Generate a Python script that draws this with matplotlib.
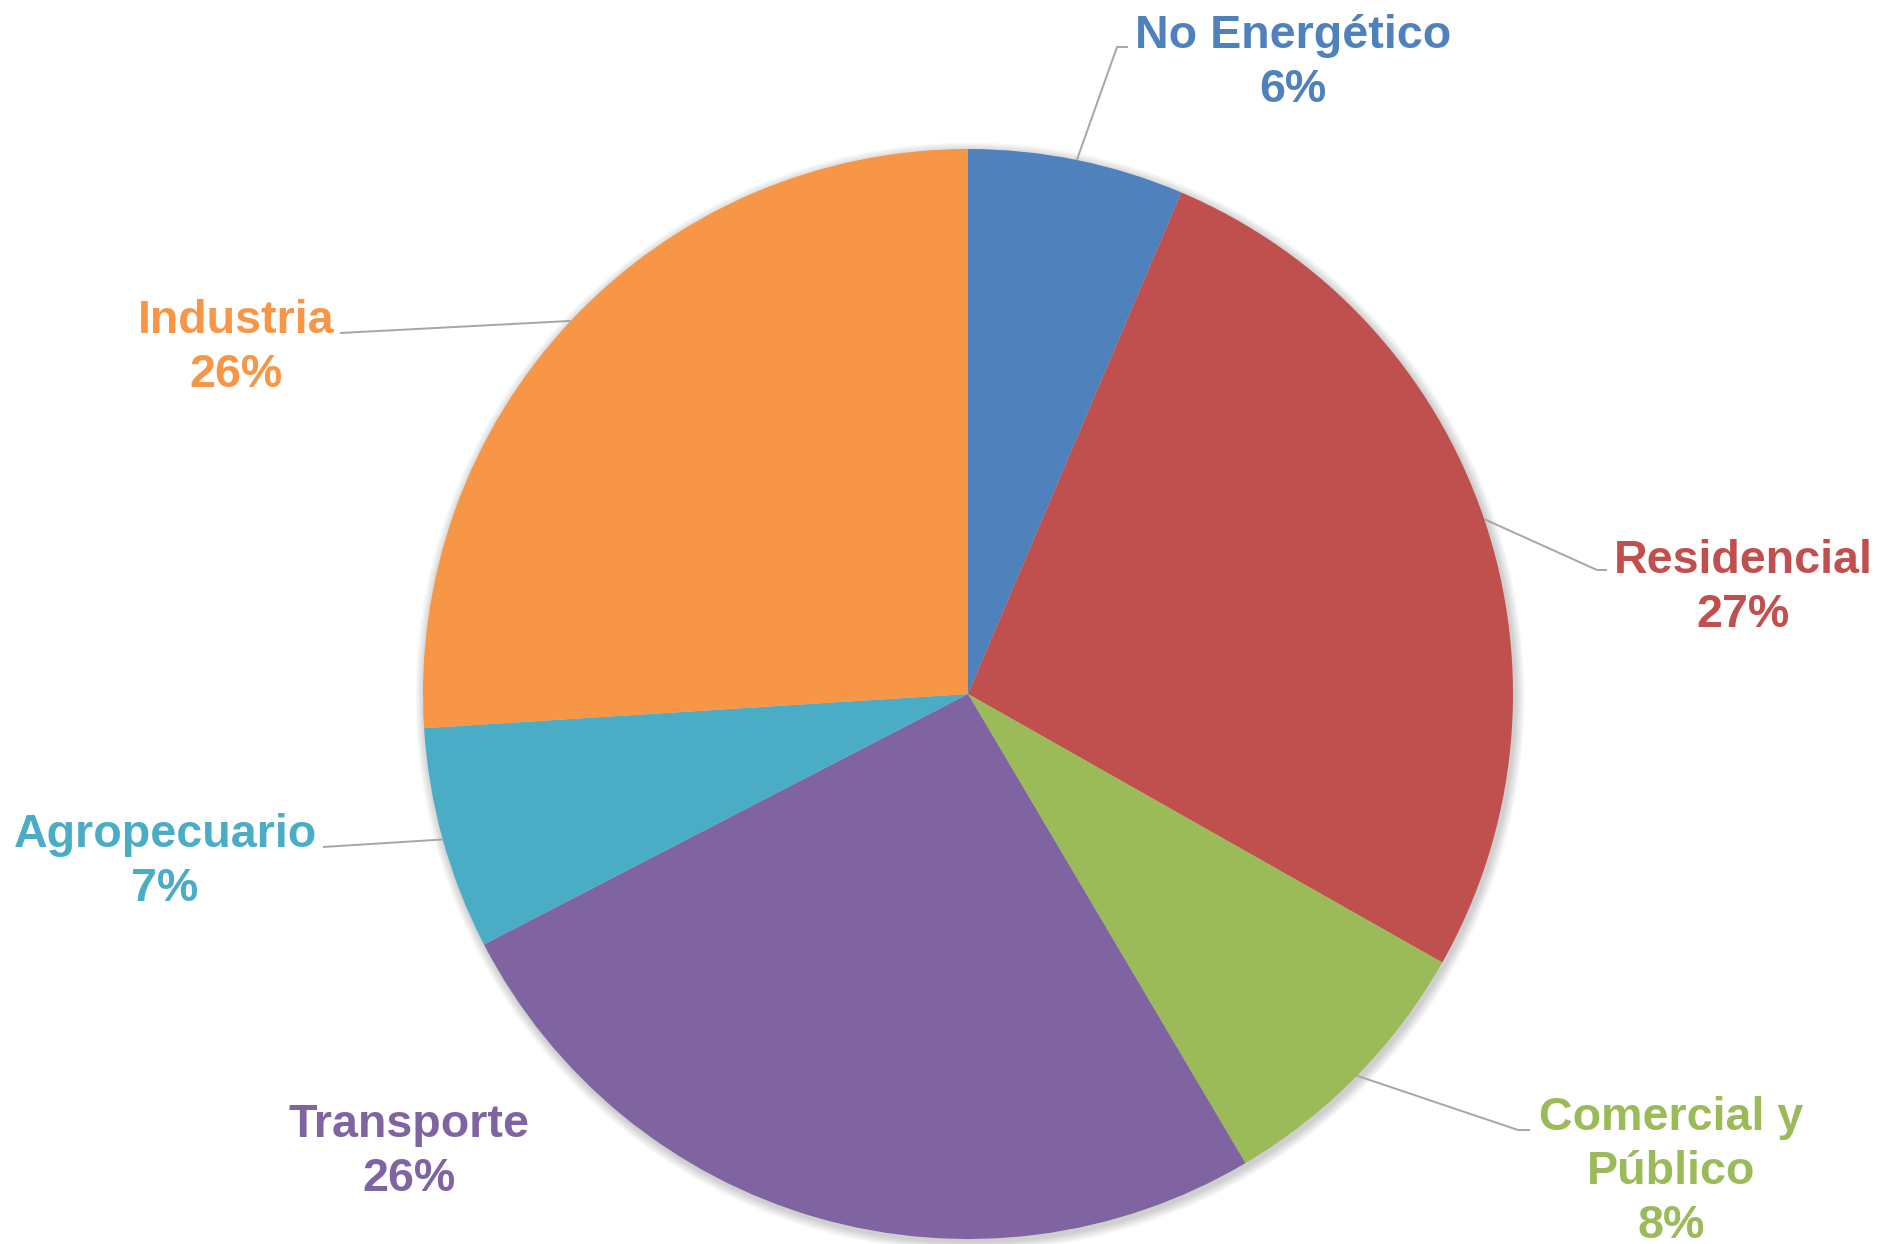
import matplotlib.pyplot as plt
import numpy as np
from matplotlib.patches import Circle

# Consumo final por sector (%)
sectors = ["No Energético", "Residencial", "Comercial y\nPúblico",
           "Transporte", "Agropecuario", "Industria"]
shares = [6.4, 26.8, 8.3, 25.9, 6.6, 26.0]
colors = ["#4F81BD", "#C0504D", "#9BBB59", "#8064A2", "#4BACC6", "#F79646"]

# label anchor (centre of text block) and leader-line elbow, in pixels from top-left
label_pos = [(1293, 63), (1743, 588), (1671, 1172), (409, 1152), (165, 862), (236, 348)]
elbows = [((1117, 47), (1128, 47)), ((1597, 570), (1607, 570)),
          ((1518, 1130), (1530, 1130)), None, ((323, 847), (323, 847)),
          ((340, 333), (340, 333))]

W, H = 1885, 1244
cx, cy, R = 968, 694, 545

fig = plt.figure(figsize=(W / 100, H / 100), dpi=100)
ax = fig.add_axes([0, 0, 1, 1])

# soft drop shadow behind the pie
for i in range(12):
    ax.add_patch(Circle((cx + 2, H - cy - 3), R + 1 + i * 0.8, color="#000000",
                        alpha=0.016, lw=0, zorder=0))

ax.pie(shares, colors=colors, startangle=90, counterclock=False,
       center=(cx, H - cy), radius=R, wedgeprops=dict(linewidth=0),
       frame=True)

ax.set_xlim(0, W)
ax.set_ylim(0, H)
ax.set_aspect("equal")
ax.axis("off")

# leader lines from the rim at each wedge's mid-angle, then the labels
cum = np.cumsum([0] + shares)
for i, name in enumerate(sectors):
    mid = np.deg2rad((cum[i] + shares[i] / 2) / 100 * 360)
    rx, ry = cx + R * np.sin(mid), cy - R * np.cos(mid)
    if elbows[i] is not None:
        (ex, ey), (fx, fy) = elbows[i]
        ax.plot([rx, ex, fx], [H - ry, H - ey, H - fy], color="#A6A6A6",
                lw=1.4, zorder=1, solid_capstyle="butt")
    lx, ly = label_pos[i]
    ax.text(lx, H - ly, f"{name}\n{round(shares[i])}%", ha="center", va="center",
            multialignment="center", color=colors[i], fontsize=33.6,
            fontweight="bold", family="Liberation Sans", linespacing=1.28)

fig.savefig("out.png", dpi=100, facecolor="white")
